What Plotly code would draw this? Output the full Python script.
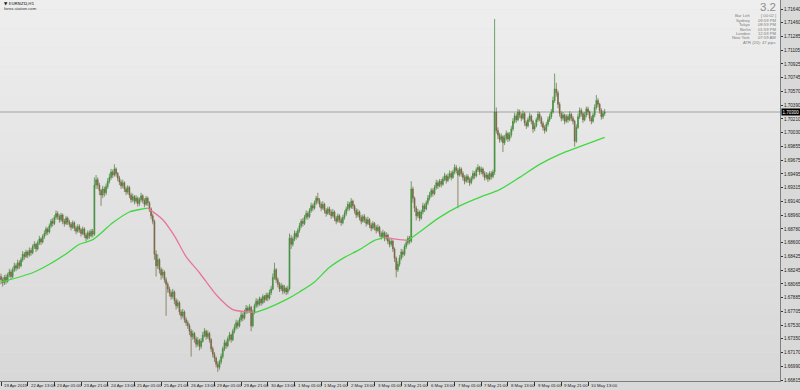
import plotly.graph_objects as go

symbol_title = "\u25bc EURNZD,H1"
source_text = "forex-station.com"

# Hourly bars
opens = [
 1.6816, 1.6812, 1.6808, 1.6815, 1.6810, 1.6818, 1.6822, 1.6816, 1.6825, 1.6830,
 1.6827, 1.6834, 1.6830, 1.6838, 1.6845, 1.6842, 1.6848, 1.6844, 1.6850, 1.6847,
 1.6855, 1.6858, 1.6852, 1.6860, 1.6865, 1.6861, 1.6868, 1.6872, 1.6878, 1.6874,
 1.6882, 1.6888, 1.6885, 1.6893, 1.6898, 1.6894, 1.6890, 1.6896, 1.6888, 1.6885,
 1.6892, 1.6887, 1.6884, 1.6880, 1.6886, 1.6879, 1.6875, 1.6881, 1.6877, 1.6872,
 1.6878, 1.6870, 1.6866, 1.6873, 1.6869, 1.6875, 1.6871, 1.6935, 1.6942, 1.6935,
 1.6928, 1.6922, 1.6930, 1.6925, 1.6933, 1.6940, 1.6945, 1.6952, 1.6948, 1.6956,
 1.6950, 1.6944, 1.6939, 1.6934, 1.6938, 1.6930, 1.6926, 1.6932, 1.6922, 1.6916,
 1.6920, 1.6914, 1.6918, 1.6911, 1.6916, 1.6921, 1.6915, 1.6910, 1.6918, 1.6912,
 1.6904, 1.6895, 1.6888, 1.6845, 1.6830, 1.6838, 1.6825, 1.6818, 1.6822, 1.6812,
 1.6806, 1.6800, 1.6795, 1.6790, 1.6796, 1.6785, 1.6778, 1.6782, 1.6770, 1.6765,
 1.6770, 1.6760, 1.6756, 1.6752, 1.6745, 1.6738, 1.6742, 1.6735, 1.6728, 1.6733,
 1.6725, 1.6732, 1.6740, 1.6745, 1.6738, 1.6742, 1.6734, 1.6722, 1.6715, 1.6710,
 1.6702, 1.6698, 1.6705, 1.6712, 1.6722, 1.6730, 1.6726, 1.6735, 1.6740, 1.6734,
 1.6745, 1.6750, 1.6756, 1.6752, 1.6760, 1.6766, 1.6762, 1.6770, 1.6775, 1.6772,
 1.6776, 1.6752, 1.6770, 1.6778, 1.6784, 1.6780, 1.6787, 1.6782, 1.6790, 1.6786,
 1.6792, 1.6788, 1.6795, 1.6800, 1.6815, 1.6825, 1.6812, 1.6806, 1.6800, 1.6804,
 1.6797, 1.6801, 1.6796, 1.6800, 1.6866, 1.6858, 1.6865, 1.6872, 1.6868, 1.6876,
 1.6882, 1.6888, 1.6885, 1.6893, 1.6898, 1.6894, 1.6902, 1.6908, 1.6905, 1.6912,
 1.6918, 1.6915, 1.6910, 1.6905, 1.6910, 1.6902, 1.6898, 1.6904, 1.6900, 1.6895,
 1.6900, 1.6892, 1.6888, 1.6895, 1.6890, 1.6886, 1.6893, 1.6898, 1.6904, 1.6910,
 1.6906, 1.6914, 1.6908, 1.6902, 1.6896, 1.6900, 1.6893, 1.6888, 1.6894, 1.6890,
 1.6885, 1.6890, 1.6883, 1.6879, 1.6885, 1.6880, 1.6876, 1.6880, 1.6872, 1.6868,
 1.6873, 1.6866, 1.6870, 1.6862, 1.6858, 1.6862, 1.6852, 1.6840, 1.6825, 1.6832,
 1.6840, 1.6848, 1.6845, 1.6855, 1.6860, 1.6866, 1.6862, 1.6930, 1.6918, 1.6905,
 1.6895, 1.6900, 1.6892, 1.6900, 1.6908, 1.6904, 1.6912, 1.6918, 1.6922, 1.6928,
 1.6924, 1.6932, 1.6938, 1.6934, 1.6940, 1.6936, 1.6943, 1.6947, 1.6941, 1.6946,
 1.6950, 1.6945, 1.6952, 1.6958, 1.6954, 1.6948, 1.6956, 1.6950, 1.6945, 1.6940,
 1.6946, 1.6942, 1.6938, 1.6944, 1.6950, 1.6947, 1.6955, 1.6958, 1.6952, 1.6956,
 1.6950, 1.6945, 1.6948, 1.6943, 1.6950, 1.6946, 1.6952, 1.7030, 1.7006, 1.7000,
 1.6994, 1.6998, 1.6990, 1.6996, 1.7002, 1.6995, 1.7000, 1.7008, 1.7018, 1.7025,
 1.7020, 1.7030, 1.7026, 1.7022, 1.7028, 1.7016, 1.7012, 1.7020, 1.7025, 1.7018,
 1.7008, 1.7012, 1.7020, 1.7027, 1.7022, 1.7015, 1.7010, 1.7006, 1.7014, 1.7020,
 1.7024, 1.7030, 1.7045, 1.7060, 1.7055, 1.7040, 1.7028, 1.7022, 1.7026, 1.7018,
 1.7024, 1.7020, 1.7027, 1.7022, 1.7018, 1.6992, 1.7010, 1.7024, 1.7032, 1.7028,
 1.7020, 1.7026, 1.7034, 1.7030, 1.7022, 1.7018, 1.7026, 1.7036, 1.7045, 1.7040,
 1.7032, 1.7024, 1.7028,
]
highs = [
 1.6820, 1.6815, 1.6818, 1.6819, 1.6821, 1.6826, 1.6825, 1.6828, 1.6834, 1.6833,
 1.6838, 1.6837, 1.6841, 1.6849, 1.6848, 1.6851, 1.6850, 1.6854, 1.6853, 1.6858,
 1.6862, 1.6860, 1.6863, 1.6869, 1.6867, 1.6871, 1.6876, 1.6881, 1.6880, 1.6885,
 1.6891, 1.6892, 1.6896, 1.6902, 1.6901, 1.6897, 1.6899, 1.6898, 1.6891, 1.6895,
 1.6894, 1.6890, 1.6887, 1.6889, 1.6888, 1.6882, 1.6884, 1.6884, 1.6879, 1.6881,
 1.6880, 1.6873, 1.6876, 1.6876, 1.6878, 1.6878, 1.6945, 1.6948, 1.6945, 1.6938,
 1.6930, 1.6934, 1.6933, 1.6937, 1.6944, 1.6950, 1.6956, 1.6955, 1.6962, 1.6958,
 1.6952, 1.6947, 1.6942, 1.6942, 1.6940, 1.6933, 1.6935, 1.6934, 1.6925, 1.6924,
 1.6922, 1.6922, 1.6920, 1.6919, 1.6925, 1.6923, 1.6918, 1.6921, 1.6920, 1.6914,
 1.6906, 1.6898, 1.6890, 1.6850, 1.6845, 1.6840, 1.6828, 1.6826, 1.6824, 1.6815,
 1.6809, 1.6803, 1.6798, 1.6800, 1.6798, 1.6788, 1.6786, 1.6784, 1.6773, 1.6774,
 1.6772, 1.6763, 1.6759, 1.6755, 1.6748, 1.6746, 1.6744, 1.6738, 1.6737, 1.6735,
 1.6736, 1.6744, 1.6749, 1.6747, 1.6746, 1.6744, 1.6736, 1.6725, 1.6718, 1.6712,
 1.6706, 1.6708, 1.6716, 1.6725, 1.6734, 1.6733, 1.6738, 1.6744, 1.6742, 1.6748,
 1.6754, 1.6760, 1.6759, 1.6763, 1.6770, 1.6769, 1.6773, 1.6779, 1.6778, 1.6780,
 1.6778, 1.6773, 1.6781, 1.6788, 1.6787, 1.6790, 1.6789, 1.6793, 1.6792, 1.6795,
 1.6795, 1.6799, 1.6804, 1.6820, 1.6834, 1.6827, 1.6815, 1.6809, 1.6808, 1.6806,
 1.6805, 1.6803, 1.6804, 1.6872, 1.6870, 1.6868, 1.6876, 1.6875, 1.6879, 1.6886,
 1.6891, 1.6892, 1.6896, 1.6902, 1.6901, 1.6905, 1.6912, 1.6911, 1.6915, 1.6921,
 1.6925, 1.6918, 1.6913, 1.6914, 1.6912, 1.6905, 1.6907, 1.6907, 1.6903, 1.6904,
 1.6902, 1.6895, 1.6898, 1.6897, 1.6893, 1.6896, 1.6902, 1.6907, 1.6914, 1.6913,
 1.6918, 1.6916, 1.6910, 1.6905, 1.6904, 1.6902, 1.6896, 1.6897, 1.6897, 1.6893,
 1.6894, 1.6892, 1.6886, 1.6888, 1.6887, 1.6883, 1.6884, 1.6882, 1.6875, 1.6877,
 1.6875, 1.6874, 1.6872, 1.6865, 1.6866, 1.6864, 1.6854, 1.6842, 1.6836, 1.6844,
 1.6852, 1.6851, 1.6858, 1.6864, 1.6869, 1.6869, 1.6940, 1.6933, 1.6920, 1.6908,
 1.6904, 1.6902, 1.6903, 1.6912, 1.6911, 1.6915, 1.6922, 1.6926, 1.6931, 1.6931,
 1.6935, 1.6942, 1.6941, 1.6943, 1.6943, 1.6946, 1.6951, 1.6949, 1.6950, 1.6954,
 1.6953, 1.6955, 1.6962, 1.6961, 1.6957, 1.6959, 1.6958, 1.6953, 1.6948, 1.6949,
 1.6949, 1.6945, 1.6947, 1.6954, 1.6953, 1.6958, 1.6962, 1.6960, 1.6959, 1.6958,
 1.6953, 1.6952, 1.6951, 1.6953, 1.6953, 1.6955, 1.7151, 1.7036, 1.7010, 1.7003,
 1.7002, 1.7000, 1.7000, 1.7006, 1.7004, 1.7004, 1.7012, 1.7022, 1.7029, 1.7028,
 1.7034, 1.7033, 1.7029, 1.7032, 1.7030, 1.7019, 1.7023, 1.7029, 1.7027, 1.7020,
 1.7016, 1.7023, 1.7031, 1.7030, 1.7025, 1.7018, 1.7013, 1.7017, 1.7024, 1.7028,
 1.7034, 1.7050, 1.7080, 1.7068, 1.7058, 1.7043, 1.7031, 1.7030, 1.7028, 1.7027,
 1.7027, 1.7031, 1.7029, 1.7025, 1.7020, 1.7014, 1.7028, 1.7036, 1.7035, 1.7030,
 1.7030, 1.7037, 1.7037, 1.7032, 1.7025, 1.7029, 1.7040, 1.7052, 1.7048, 1.7042,
 1.7035, 1.7032, 1.7034,
]
lows = [
 1.6806, 1.6803, 1.6805, 1.6806, 1.6808, 1.6815, 1.6812, 1.6814, 1.6822, 1.6823,
 1.6825, 1.6826, 1.6828, 1.6835, 1.6838, 1.6840, 1.6840, 1.6842, 1.6843, 1.6845,
 1.6852, 1.6848, 1.6850, 1.6857, 1.6857, 1.6859, 1.6865, 1.6869, 1.6870, 1.6872,
 1.6879, 1.6881, 1.6883, 1.6890, 1.6890, 1.6886, 1.6887, 1.6884, 1.6881, 1.6883,
 1.6883, 1.6880, 1.6876, 1.6878, 1.6875, 1.6871, 1.6873, 1.6873, 1.6868, 1.6870,
 1.6866, 1.6862, 1.6864, 1.6865, 1.6867, 1.6867, 1.6869, 1.6930, 1.6930, 1.6922,
 1.6908, 1.6918, 1.6920, 1.6922, 1.6930, 1.6937, 1.6942, 1.6944, 1.6946, 1.6946,
 1.6940, 1.6935, 1.6930, 1.6931, 1.6926, 1.6922, 1.6923, 1.6918, 1.6912, 1.6913,
 1.6910, 1.6911, 1.6907, 1.6908, 1.6913, 1.6911, 1.6906, 1.6908, 1.6908, 1.6900,
 1.6891, 1.6884, 1.6838, 1.6816, 1.6826, 1.6820, 1.6812, 1.6814, 1.6808, 1.6765,
 1.6795, 1.6790, 1.6786, 1.6787, 1.6780, 1.6773, 1.6775, 1.6766, 1.6760, 1.6762,
 1.6756, 1.6752, 1.6748, 1.6740, 1.6712, 1.6734, 1.6730, 1.6724, 1.6725, 1.6720,
 1.6722, 1.6730, 1.6737, 1.6734, 1.6735, 1.6730, 1.6718, 1.6711, 1.6705, 1.6698,
 1.6692, 1.6695, 1.6702, 1.6709, 1.6719, 1.6722, 1.6724, 1.6732, 1.6730, 1.6732,
 1.6742, 1.6747, 1.6748, 1.6750, 1.6757, 1.6758, 1.6760, 1.6767, 1.6768, 1.6769,
 1.6745, 1.6750, 1.6767, 1.6775, 1.6776, 1.6778, 1.6778, 1.6780, 1.6782, 1.6784,
 1.6784, 1.6786, 1.6792, 1.6798, 1.6812, 1.6808, 1.6802, 1.6796, 1.6797, 1.6793,
 1.6794, 1.6792, 1.6793, 1.6798, 1.6852, 1.6855, 1.6862, 1.6864, 1.6866, 1.6873,
 1.6879, 1.6881, 1.6883, 1.6890, 1.6890, 1.6892, 1.6899, 1.6901, 1.6903, 1.6909,
 1.6911, 1.6906, 1.6901, 1.6903, 1.6898, 1.6894, 1.6896, 1.6896, 1.6891, 1.6893,
 1.6888, 1.6884, 1.6886, 1.6886, 1.6882, 1.6884, 1.6890, 1.6895, 1.6901, 1.6902,
 1.6904, 1.6904, 1.6898, 1.6892, 1.6893, 1.6889, 1.6884, 1.6886, 1.6886, 1.6881,
 1.6883, 1.6879, 1.6875, 1.6877, 1.6876, 1.6872, 1.6874, 1.6868, 1.6864, 1.6866,
 1.6862, 1.6863, 1.6858, 1.6854, 1.6855, 1.6848, 1.6835, 1.6815, 1.6822, 1.6829,
 1.6837, 1.6841, 1.6843, 1.6852, 1.6857, 1.6858, 1.6860, 1.6912, 1.6900, 1.6889,
 1.6892, 1.6888, 1.6890, 1.6897, 1.6900, 1.6902, 1.6909, 1.6915, 1.6919, 1.6920,
 1.6922, 1.6929, 1.6930, 1.6932, 1.6932, 1.6934, 1.6940, 1.6937, 1.6939, 1.6943,
 1.6941, 1.6943, 1.6949, 1.6950, 1.6905, 1.6946, 1.6946, 1.6941, 1.6936, 1.6938,
 1.6938, 1.6934, 1.6936, 1.6941, 1.6943, 1.6945, 1.6952, 1.6948, 1.6949, 1.6946,
 1.6941, 1.6942, 1.6939, 1.6941, 1.6942, 1.6944, 1.6948, 1.7002, 1.6995, 1.6990,
 1.6991, 1.6978, 1.6987, 1.6993, 1.6991, 1.6992, 1.6997, 1.7005, 1.7015, 1.7016,
 1.7018, 1.7022, 1.7018, 1.7020, 1.7012, 1.7008, 1.7010, 1.7017, 1.7014, 1.7003,
 1.7005, 1.7010, 1.7017, 1.7018, 1.7011, 1.7006, 1.7002, 1.7004, 1.7011, 1.7017,
 1.7021, 1.7028, 1.7042, 1.7050, 1.7035, 1.7024, 1.7018, 1.7019, 1.7014, 1.7016,
 1.7016, 1.7018, 1.7018, 1.7014, 1.6985, 1.6990, 1.7008, 1.7021, 1.7024, 1.7016,
 1.7018, 1.7023, 1.7026, 1.7018, 1.7014, 1.7016, 1.7023, 1.7033, 1.7036, 1.7028,
 1.7020, 1.7021, 1.7025,
]
closes = [
 1.6812, 1.6808, 1.6815, 1.6810, 1.6818, 1.6822, 1.6816, 1.6825, 1.6830, 1.6827,
 1.6834, 1.6830, 1.6838, 1.6845, 1.6842, 1.6848, 1.6844, 1.6850, 1.6847, 1.6855,
 1.6858, 1.6852, 1.6860, 1.6865, 1.6861, 1.6868, 1.6872, 1.6878, 1.6874, 1.6882,
 1.6888, 1.6885, 1.6893, 1.6898, 1.6894, 1.6890, 1.6896, 1.6888, 1.6885, 1.6892,
 1.6887, 1.6884, 1.6880, 1.6886, 1.6879, 1.6875, 1.6881, 1.6877, 1.6872, 1.6878,
 1.6870, 1.6866, 1.6873, 1.6869, 1.6875, 1.6871, 1.6935, 1.6942, 1.6935, 1.6928,
 1.6922, 1.6930, 1.6925, 1.6933, 1.6940, 1.6945, 1.6952, 1.6948, 1.6956, 1.6950,
 1.6944, 1.6939, 1.6934, 1.6938, 1.6930, 1.6926, 1.6932, 1.6922, 1.6916, 1.6920,
 1.6914, 1.6918, 1.6911, 1.6916, 1.6921, 1.6915, 1.6910, 1.6918, 1.6912, 1.6904,
 1.6895, 1.6888, 1.6845, 1.6830, 1.6838, 1.6825, 1.6818, 1.6822, 1.6812, 1.6806,
 1.6800, 1.6795, 1.6790, 1.6796, 1.6785, 1.6778, 1.6782, 1.6770, 1.6765, 1.6770,
 1.6760, 1.6756, 1.6752, 1.6745, 1.6738, 1.6742, 1.6735, 1.6728, 1.6733, 1.6725,
 1.6732, 1.6740, 1.6745, 1.6738, 1.6742, 1.6734, 1.6722, 1.6715, 1.6710, 1.6702,
 1.6698, 1.6705, 1.6712, 1.6722, 1.6730, 1.6726, 1.6735, 1.6740, 1.6734, 1.6745,
 1.6750, 1.6756, 1.6752, 1.6760, 1.6766, 1.6762, 1.6770, 1.6775, 1.6772, 1.6776,
 1.6752, 1.6770, 1.6778, 1.6784, 1.6780, 1.6787, 1.6782, 1.6790, 1.6786, 1.6792,
 1.6788, 1.6795, 1.6800, 1.6815, 1.6825, 1.6812, 1.6806, 1.6800, 1.6804, 1.6797,
 1.6801, 1.6796, 1.6800, 1.6866, 1.6858, 1.6865, 1.6872, 1.6868, 1.6876, 1.6882,
 1.6888, 1.6885, 1.6893, 1.6898, 1.6894, 1.6902, 1.6908, 1.6905, 1.6912, 1.6918,
 1.6915, 1.6910, 1.6905, 1.6910, 1.6902, 1.6898, 1.6904, 1.6900, 1.6895, 1.6900,
 1.6892, 1.6888, 1.6895, 1.6890, 1.6886, 1.6893, 1.6898, 1.6904, 1.6910, 1.6906,
 1.6914, 1.6908, 1.6902, 1.6896, 1.6900, 1.6893, 1.6888, 1.6894, 1.6890, 1.6885,
 1.6890, 1.6883, 1.6879, 1.6885, 1.6880, 1.6876, 1.6880, 1.6872, 1.6868, 1.6873,
 1.6866, 1.6870, 1.6862, 1.6858, 1.6862, 1.6852, 1.6840, 1.6825, 1.6832, 1.6840,
 1.6848, 1.6845, 1.6855, 1.6860, 1.6866, 1.6862, 1.6930, 1.6918, 1.6905, 1.6895,
 1.6900, 1.6892, 1.6900, 1.6908, 1.6904, 1.6912, 1.6918, 1.6922, 1.6928, 1.6924,
 1.6932, 1.6938, 1.6934, 1.6940, 1.6936, 1.6943, 1.6947, 1.6941, 1.6946, 1.6950,
 1.6945, 1.6952, 1.6958, 1.6954, 1.6948, 1.6956, 1.6950, 1.6945, 1.6940, 1.6946,
 1.6942, 1.6938, 1.6944, 1.6950, 1.6947, 1.6955, 1.6958, 1.6952, 1.6956, 1.6950,
 1.6945, 1.6948, 1.6943, 1.6950, 1.6946, 1.6952, 1.7030, 1.7006, 1.7000, 1.6994,
 1.6998, 1.6990, 1.6996, 1.7002, 1.6995, 1.7000, 1.7008, 1.7018, 1.7025, 1.7020,
 1.7030, 1.7026, 1.7022, 1.7028, 1.7016, 1.7012, 1.7020, 1.7025, 1.7018, 1.7008,
 1.7012, 1.7020, 1.7027, 1.7022, 1.7015, 1.7010, 1.7006, 1.7014, 1.7020, 1.7024,
 1.7030, 1.7045, 1.7060, 1.7055, 1.7040, 1.7028, 1.7022, 1.7026, 1.7018, 1.7024,
 1.7020, 1.7027, 1.7022, 1.7018, 1.6992, 1.7010, 1.7024, 1.7032, 1.7028, 1.7020,
 1.7026, 1.7034, 1.7030, 1.7022, 1.7018, 1.7026, 1.7036, 1.7045, 1.7040, 1.7032,
 1.7024, 1.7028, 1.7030,
]

# Moving average (bar index, value)
ma_bar = [0, 19, 29, 40, 47, 55, 67, 77, 85, 88, 97, 104, 111, 119, 130, 139, 149,
          152, 161, 171, 179, 188, 197, 206, 215, 224, 230, 239, 244, 251, 263, 275,
          287, 299, 311, 323, 335, 347, 362]
ma_val = [1.6809, 1.6821, 1.6832, 1.6847, 1.6858, 1.6864, 1.6886, 1.6900, 1.6904,
          1.6905, 1.6890, 1.6869, 1.6842, 1.6821, 1.6790, 1.6773, 1.6770, 1.6769,
          1.6776, 1.6786, 1.6796, 1.6809, 1.6828, 1.6841, 1.6851, 1.6863, 1.6867,
          1.6864, 1.6863, 1.6874, 1.6893, 1.6908, 1.6919, 1.6929, 1.6945, 1.6962,
          1.6975, 1.6985, 1.6997]

x_tick_bars = [0, 16, 32, 48, 64, 80, 96, 112, 128, 144, 160, 176, 192, 208, 224,
               240, 256, 272, 288, 304, 320, 336, 352]
x_tick_labels = ["19 Apr 2019", "22 Apr 13:00", "23 Apr 05:00", "23 Apr 21:00",
                 "24 Apr 13:00", "25 Apr 05:00", "25 Apr 21:00", "26 Apr 13:00",
                 "29 Apr 05:00", "29 Apr 21:00", "30 Apr 13:00", "1 May 05:00",
                 "1 May 21:00", "2 May 13:00", "3 May 05:00", "3 May 21:00",
                 "6 May 13:00", "7 May 05:00", "7 May 21:00", "8 May 13:00",
                 "9 May 05:00", "9 May 21:00", "10 May 13:00"]
price_ticks = [1.71640, 1.71460, 1.71285, 1.71105, 1.70925, 1.70745, 1.70570,
               1.70390, 1.70210, 1.70030, 1.69855, 1.69675, 1.69495, 1.69315,
               1.69140, 1.68960, 1.68780, 1.68600, 1.68425, 1.68245, 1.68065,
               1.67885, 1.67705, 1.67530, 1.67350, 1.67170, 1.66990, 1.66815]
last_price_label = "1.70300"

spread_text = "3.2"
info_labels = ["Bar Left", "Sydney", "Tokyo", "Berlin", "London", "New York"]
info_values = ["[ 00:02 ]", "09:59 PM", "08:59 PM", "01:59 PM", "12:59 PM", "07:59 AM"]
atr_text = "ATR (20): 47 pips"

# ---------------- layout helpers ----------------
W, H = 800, 390
PR, PB = 780, 381  # plot area right / bottom in pixels


def fx(px):
    return px / PR


def fy(py):
    return 1 - py / PB


FONT = "Liberation Sans, Arial, sans-serif"
GREEN = "#41d841"
PINK = "#e7759a"

fig = go.Figure()

# stepped vertical gradient for the chart background
n_bands = 40
for k in range(n_bands):
    t = k / (n_bands - 1)
    c = int(round(238 - t * 22))
    fig.add_shape(type="rect", xref="paper", yref="paper", x0=0, x1=1,
                  y0=1 - (k + 1) / n_bands, y1=1 - k / n_bands,
                  fillcolor=f"rgb({c},{c},{c})", line_width=0, layer="below")

# bid line
fig.add_shape(type="line", xref="paper", yref="y", x0=0, x1=1,
              y0=closes[-1], y1=closes[-1],
              line=dict(color="#b9b9b9", width=1.5), layer="below")

bar_index = list(range(len(closes)))
fig.add_trace(go.Candlestick(
    x=bar_index, open=opens, high=highs, low=lows, close=closes,
    increasing=dict(line=dict(color="rgba(70,135,60,0.75)", width=1), fillcolor="#36a236"),
    decreasing=dict(line=dict(color="rgba(115,105,70,0.75)", width=1), fillcolor="#8e4c27"),
    whiskerwidth=0, hoverinfo="skip", showlegend=False))

# MA coloured by direction
runs = []
cur = None
for k in range(len(ma_bar) - 1):
    col = GREEN if ma_val[k + 1] >= ma_val[k] else PINK
    if col != cur:
        runs.append([col, [ma_bar[k]], [ma_val[k]]])
        cur = col
    runs[-1][1].append(ma_bar[k + 1])
    runs[-1][2].append(ma_val[k + 1])
for col, xs, ys in runs:
    fig.add_trace(go.Scatter(x=xs, y=ys, mode="lines",
                             line=dict(color=col, width=1.3, shape="spline", smoothing=0.8),
                             hoverinfo="skip", showlegend=False))

ann = []
# x-axis labels, left aligned next to their tick
for b, t in zip(x_tick_bars, x_tick_labels):
    ann.append(dict(x=b, xref="x", y=fy(385.5), yref="paper", text=t, showarrow=False,
                    xanchor="left", yanchor="middle", xshift=1,
                    font=dict(family=FONT, size=4.3, color="#222")))

# current price box
ann.append(dict(x=fx(781), xref="paper", y=closes[-1], yref="y", text=last_price_label,
                showarrow=False, xanchor="left", yanchor="middle", bgcolor="#000000",
                borderpad=0.5, font=dict(family=FONT, size=4.5, color="#ffffff")))

# top-left title
ann.append(dict(x=fx(2), xref="paper", y=fy(3.5), yref="paper", text=symbol_title,
                showarrow=False, xanchor="left", yanchor="middle",
                font=dict(family="DejaVu Sans, sans-serif", size=4.3, color="#111")))
ann.append(dict(x=fx(2), xref="paper", y=fy(8), yref="paper", text=source_text,
                showarrow=False, xanchor="left", yanchor="middle",
                font=dict(family=FONT, size=4.2, color="#333")))

# top-right info panel
ann.append(dict(x=fx(778), xref="paper", y=fy(6.5), yref="paper", text=spread_text,
                showarrow=False, xanchor="right", yanchor="middle",
                font=dict(family=FONT, size=11.5, color="#8c8c8c")))
row_y = [15.5, 20, 24.5, 29, 33.5, 38]
for yy, lab, val in zip(row_y, info_labels, info_values):
    ann.append(dict(x=fx(753), xref="paper", y=fy(yy), yref="paper", text=lab,
                    showarrow=False, xanchor="right", yanchor="middle",
                    font=dict(family=FONT, size=4.2, color="#7d7d7d")))
    ann.append(dict(x=fx(778), xref="paper", y=fy(yy), yref="paper", text=val,
                    showarrow=False, xanchor="right", yanchor="middle",
                    font=dict(family=FONT, size=4.2, color="#7d7d7d")))
ann.append(dict(x=fx(778), xref="paper", y=fy(42.8), yref="paper", text=atr_text,
                showarrow=False, xanchor="right", yanchor="middle",
                font=dict(family=FONT, size=4.2, color="#7d7d7d")))

y_lo = price_ticks[-1] - (PB - 380) * 0.00013006
y_hi = price_ticks[0] + 9 * 0.00013006

fig.update_layout(
    width=W, height=H,
    margin=dict(l=0, r=W - PR, t=0, b=H - PB, pad=0),
    paper_bgcolor="#d9d9d9", plot_bgcolor="#e4e4e4",
    showlegend=False, annotations=ann,
    xaxis=dict(range=[-0.6, (PR - 1) / 1.6676], showgrid=False, zeroline=False,
               rangeslider=dict(visible=False), tickmode="array", tickvals=x_tick_bars,
               ticks="outside", ticklen=4, tickcolor="#333", tickwidth=1,
               showticklabels=False, showline=True, linecolor="#7f7f7f", linewidth=1,
               automargin=False, fixedrange=True),
    yaxis=dict(range=[y_lo, y_hi], side="right", showgrid=False, zeroline=False,
               tickmode="array", tickvals=price_ticks,
               ticktext=[f"{v:.5f}" for v in price_ticks],
               ticks="outside", ticklen=2, tickcolor="#333", tickwidth=1,
               tickfont=dict(family=FONT, size=4.6, color="#222"),
               showline=True, linecolor="#7f7f7f", linewidth=1, automargin=False,
               fixedrange=True),
)

fig.write_html("out.html")
